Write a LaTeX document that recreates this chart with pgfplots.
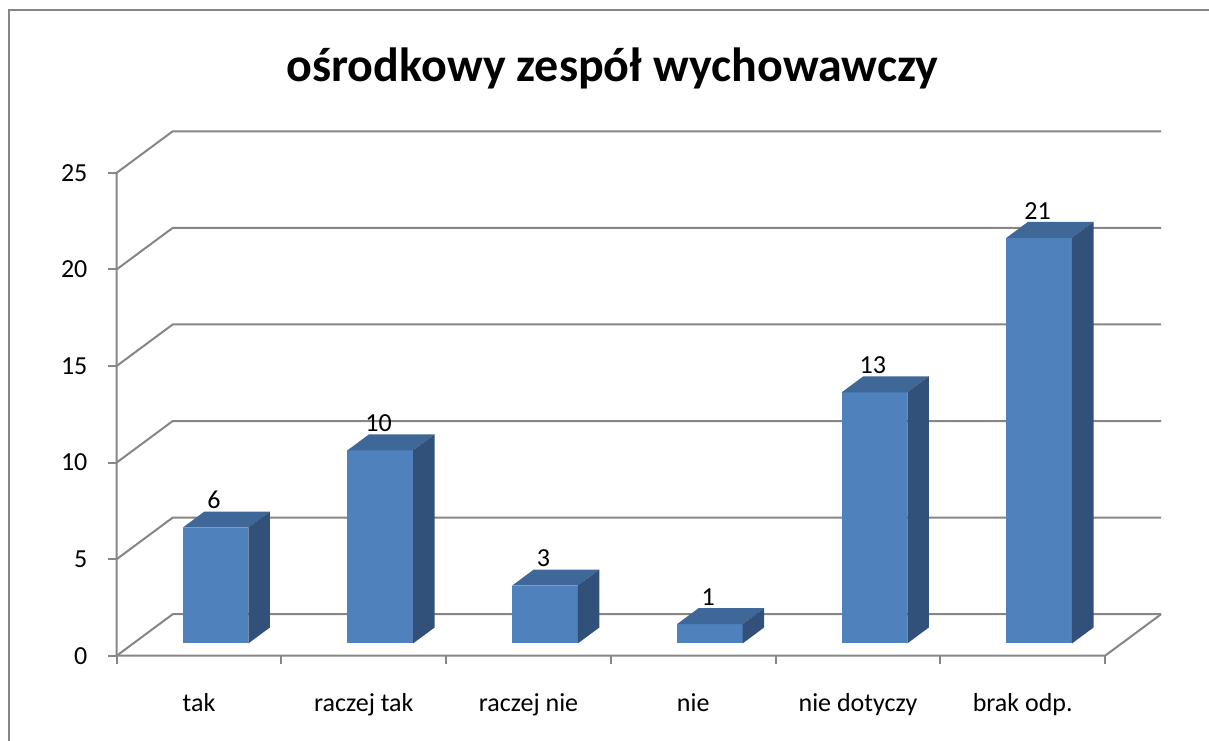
\documentclass[border=0pt]{standalone}
\usepackage{pgfplots}
\pgfplotsset{compat=1.18}
\usepackage{pgfplotstable}
\usepackage{fontspec}
\setmainfont{Carlito}
\definecolor{barfront}{HTML}{4F81BD}
\definecolor{bartop}{HTML}{3F6797}
\definecolor{barside}{HTML}{31507A}
\definecolor{gridc}{RGB}{134,134,134}

\pgfplotstableread{
x v
0 6
1 10
2 3
3 1
4 13
5 21
}\data

\begin{document}
\begin{tikzpicture}
\useasboundingbox (0,0) rectangle (604.5pt,370pt);
\draw[gridc, line width=1pt] (4.25pt,-5pt) -- (4.25pt,365pt) -- (610pt,365pt);
\node[font=\fontsize{24}{28}\selectfont\bfseries, anchor=base] at (306.25pt,329pt) {ośrodkowy zespół wychowawczy};
\begin{axis}[
  at={(58.35pt,42.15pt)}, anchor=south west,
  scale only axis, width=522.2pt, height=262.2pt,
  xmin=0, xmax=6.34, ymin=0, ymax=27.148,
  clip=false,
  axis lines=left, axis line style={draw=none},
  tick style={draw=none},
  ytick={0,5,...,25},
  xtick={0.5,1.5,...,5.5},
  xticklabels={tak, raczej tak, raczej nie, nie, nie dotyczy, brak odp.},
  /pgf/number format/assume math mode=true,
  ticklabel style={font=\fontsize{13}{15}\selectfont, text=black},
  yticklabel style={anchor=east, xshift=-9pt},
  xticklabel style={anchor=base, yshift=-26pt},
  every node near coord/.append style={anchor=base, yshift=1.4pt, font=\fontsize{13}{15}\selectfont, text=black},
]
% walls and floor
\pgfplotsinvokeforeach{0,5,10,15,20,25}{
  \draw[gridc, line width=1pt] (axis cs:0,#1) -- (axis cs:0.34,{#1+2.148}) -- (axis cs:6.34,{#1+2.148});
  \draw[gridc, line width=1pt] (axis cs:0,#1) -- ++(-4.5pt,0);
}
\draw[gridc, line width=1pt] (axis cs:0,25) -- (axis cs:0,0) -- (axis cs:6,0) -- (axis cs:6.34,2.148);
\pgfplotsinvokeforeach{0,1,2,3,4,5,6}{
  \draw[gridc, line width=1pt] (axis cs:#1,0) -- ++(0,-4pt);
}
% 3D bars
\pgfplotsinvokeforeach{0,...,5}{
  \pgfplotstablegetelem{#1}{v}\of\data
  \pgfmathsetmacro\L{#1+0.5-0.099}
  \pgfmathsetmacro\R{#1+0.5+0.299}
  \pgfmathsetmacro\RR{\R+0.131}
  \pgfmathsetmacro\LL{\L+0.131}
  \pgfmathsetmacro\B{0.634}
  \pgfmathsetmacro\T{\pgfplotsretval+0.634}
  \pgfmathsetmacro\BB{0.634+0.827}
  \pgfmathsetmacro\TT{\T+0.827}
  \edef\tmp{%
   \noexpand\addplot[fill=barfront, draw=none] coordinates {(\L,\B) (\R,\B) (\R,\T) (\L,\T)} -- cycle;
   \noexpand\addplot[fill=bartop, draw=none] coordinates {(\L,\T) (\R,\T) (\RR,\TT) (\LL,\TT)} -- cycle;
   \noexpand\addplot[fill=barside, draw=none] coordinates {(\R,\B) (\RR,\BB) (\RR,\TT) (\R,\T)} -- cycle;
  }\tmp
}
% data labels
\addplot[draw=none, mark=none, nodes near coords, point meta=explicit]
  table[x expr=\thisrow{x}+0.59, y expr=\thisrow{v}+1.461, meta=v] {\data};
\end{axis}
\end{tikzpicture}
\end{document}
